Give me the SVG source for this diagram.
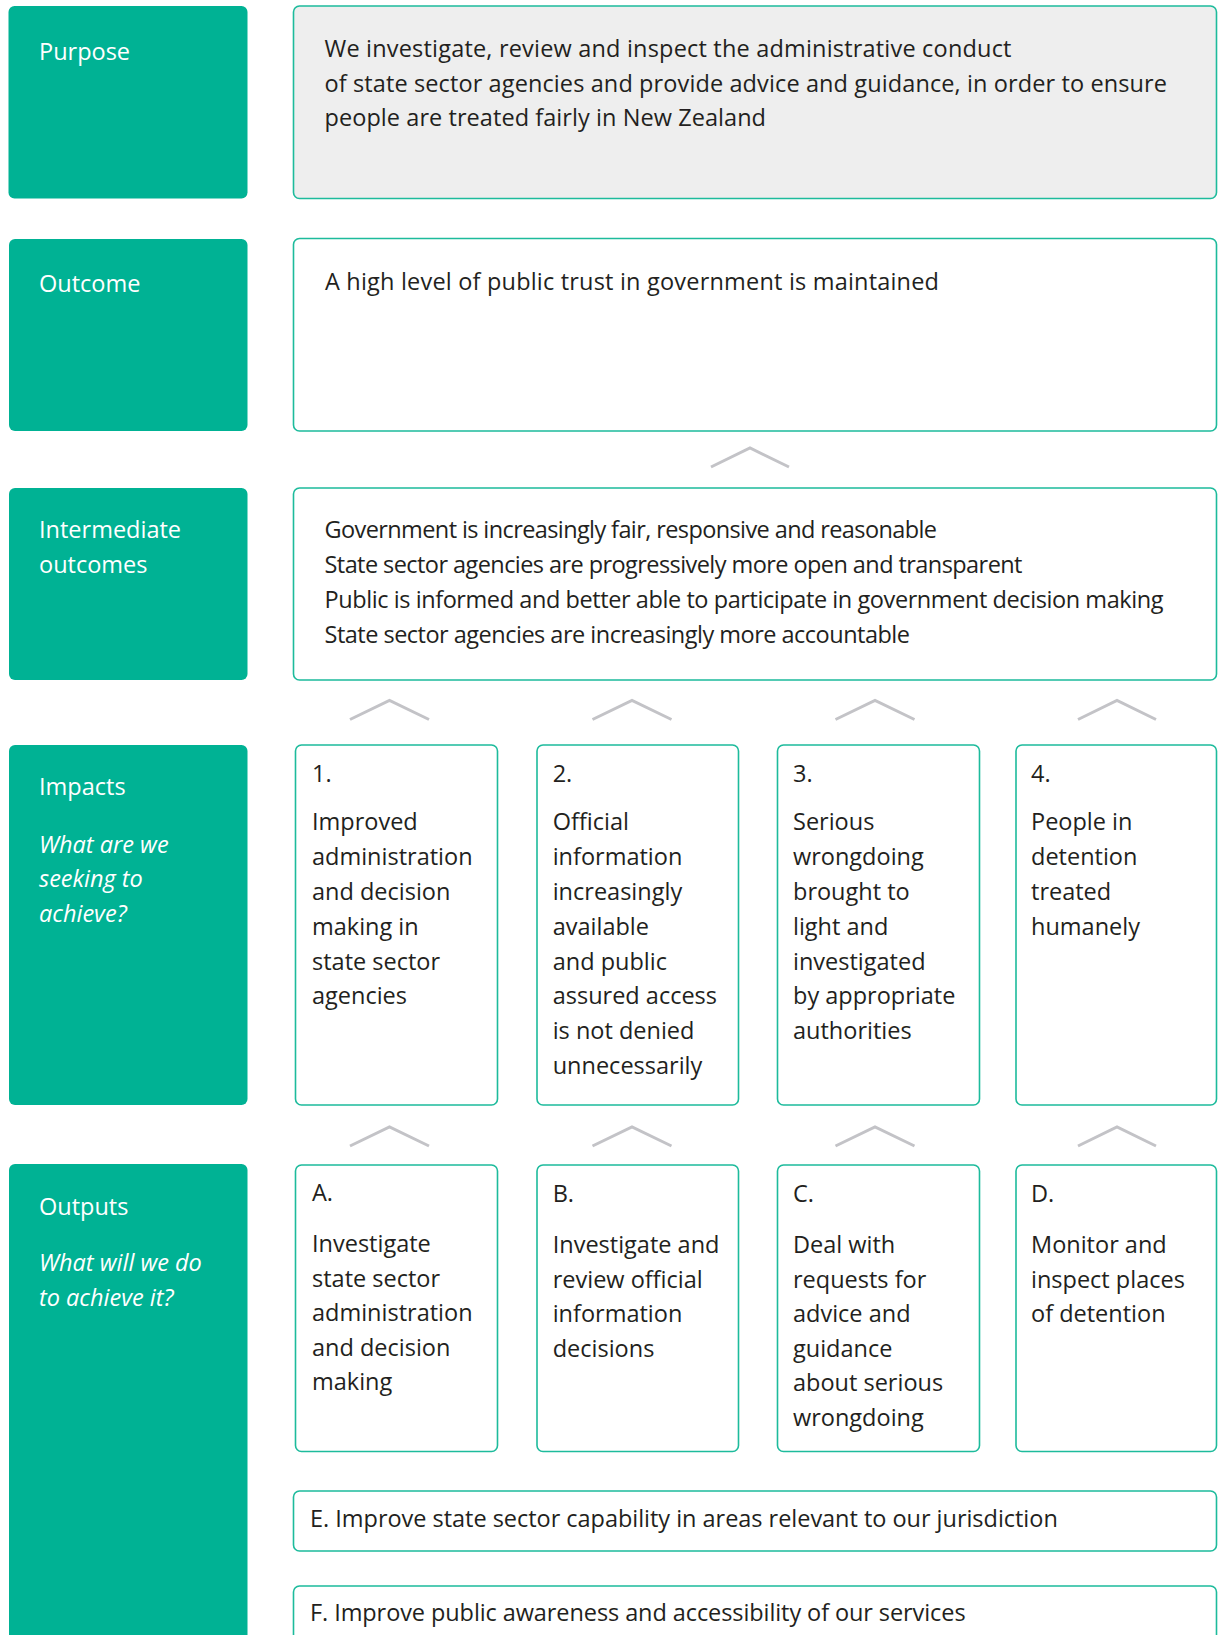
<svg xmlns="http://www.w3.org/2000/svg" width="1218" height="1635" viewBox="0 0 1218 1635">
<style>
.lab{fill:#00b294}
.box{fill:#ffffff;stroke:#1dbb9c;stroke-width:1.6}
.grey{fill:#eeeeee}
.lt{font-family:"Open Sans","Noto Sans","Liberation Sans",sans-serif;font-size:23.5px;fill:#ffffff}
.it{font-style:italic}
.t{font-family:"Open Sans","Noto Sans","Liberation Sans",sans-serif;font-size:23.5px;fill:#231f20}
.chev{fill:none;stroke:#c3c3c7;stroke-width:3}
</style>
<rect width="1218" height="1635" fill="#ffffff"/>
<g id="connectors">
<polyline class="chev" points="711,467 750,448 789,467"/>
<polyline class="chev" points="350,719.5 389.5,700.5 429,719.5"/>
<polyline class="chev" points="592.5,719.5 632,700.5 671.5,719.5"/>
<polyline class="chev" points="835.5,719.5 875,700.5 914.5,719.5"/>
<polyline class="chev" points="1078,719.5 1117,700.5 1156,719.5"/>
<polyline class="chev" points="350,1146 389.5,1127 429,1146"/>
<polyline class="chev" points="592.5,1146 632,1127 671.5,1146"/>
<polyline class="chev" points="835.5,1146 875,1127 914.5,1146"/>
<polyline class="chev" points="1078,1146 1117,1127 1156,1146"/>
</g>
<g id="label-purpose">
<rect class="lab" x="8.5" y="6" width="239" height="192.5" rx="6"/>
<text class="lt" x="39" y="59.5">Purpose</text>
</g>
<g id="label-outcome">
<rect class="lab" x="9" y="239" width="238.5" height="192" rx="6"/>
<text class="lt" x="39" y="292">Outcome</text>
</g>
<g id="label-intermediate">
<rect class="lab" x="9" y="488" width="238.5" height="192" rx="6"/>
<text class="lt" x="39" y="538">Intermediate</text>
<text class="lt" x="39" y="573">outcomes</text>
</g>
<g id="label-impacts">
<rect class="lab" x="9" y="745" width="238.5" height="360" rx="6"/>
<text class="lt" x="39" y="795">Impacts</text>
<text class="lt it" x="39" y="852.5">What are we</text>
<text class="lt it" x="39" y="887">seeking to</text>
<text class="lt it" x="39" y="921.5">achieve?</text>
</g>
<g id="label-outputs">
<rect class="lab" x="9" y="1164" width="238.5" height="520" rx="6"/>
<text class="lt" x="39" y="1214.5">Outputs</text>
<text class="lt it" x="39" y="1271">What will we do</text>
<text class="lt it" x="39" y="1305.5">to achieve it?</text>
</g>
<g id="purpose">
<rect class="box grey" x="293.5" y="6" width="923" height="192.5" rx="6"/>
<text class="t" x="324.5" y="57.3" textLength="687">We investigate, review and inspect the administrative conduct</text>
<text class="t" x="324.5" y="91.7" textLength="842.5">of state sector agencies and provide advice and guidance, in order to ensure</text>
<text class="t" x="324.5" y="126" textLength="441.5">people are treated fairly in New Zealand</text>
</g>
<g id="outcome">
<rect class="box" x="293.5" y="238.5" width="923" height="192.5" rx="6"/>
<text class="t" x="325" y="290" textLength="614">A high level of public trust in government is maintained</text>
</g>
<g id="intermediate">
<rect class="box" x="293.5" y="488" width="923" height="192" rx="6"/>
<text class="t" x="324.5" y="538.3" textLength="612.5">Government is increasingly fair, responsive and reasonable</text>
<text class="t" x="324.5" y="573.3" textLength="698">State sector agencies are progressively more open and transparent</text>
<text class="t" x="324.5" y="608.3" textLength="839">Public is informed and better able to participate in government decision making</text>
<text class="t" x="324.5" y="642.7" textLength="585.5">State sector agencies are increasingly more accountable</text>
</g>
<g id="impact-1">
<rect class="box" x="295.5" y="745" width="202" height="360" rx="6"/>
<text class="t" x="312" y="781.5">1.</text>
<text class="t" x="312" y="830">Improved</text>
<text class="t" x="312" y="865">administration</text>
<text class="t" x="312" y="900">and decision</text>
<text class="t" x="312" y="934.5">making in</text>
<text class="t" x="312" y="969.5">state sector</text>
<text class="t" x="312" y="1004">agencies</text>
</g>
<g id="impact-2">
<rect class="box" x="537" y="745" width="201.5" height="360" rx="6"/>
<text class="t" x="552.7" y="781.5">2.</text>
<text class="t" x="552.7" y="830">Official</text>
<text class="t" x="552.7" y="865">information</text>
<text class="t" x="552.7" y="900">increasingly</text>
<text class="t" x="552.7" y="934.5">available</text>
<text class="t" x="552.7" y="969.5">and public</text>
<text class="t" x="552.7" y="1004">assured access</text>
<text class="t" x="552.7" y="1039">is not denied</text>
<text class="t" x="552.7" y="1073.5">unnecessarily</text>
</g>
<g id="impact-3">
<rect class="box" x="777.5" y="745" width="202" height="360" rx="6"/>
<text class="t" x="793" y="781.5">3.</text>
<text class="t" x="793" y="830">Serious</text>
<text class="t" x="793" y="865">wrongdoing</text>
<text class="t" x="793" y="900">brought to</text>
<text class="t" x="793" y="934.5">light and</text>
<text class="t" x="793" y="969.5">investigated</text>
<text class="t" x="793" y="1004">by appropriate</text>
<text class="t" x="793" y="1039">authorities</text>
</g>
<g id="impact-4">
<rect class="box" x="1016" y="745" width="200.5" height="360" rx="6"/>
<text class="t" x="1031" y="781.5">4.</text>
<text class="t" x="1031" y="830">People in</text>
<text class="t" x="1031" y="865">detention</text>
<text class="t" x="1031" y="900">treated</text>
<text class="t" x="1031" y="934.5">humanely</text>
</g>
<g id="output-a">
<rect class="box" x="295.5" y="1165" width="202" height="286.5" rx="6"/>
<text class="t" x="312" y="1200.5">A.</text>
<text class="t" x="312" y="1252">Investigate</text>
<text class="t" x="312" y="1286.5">state sector</text>
<text class="t" x="312" y="1321">administration</text>
<text class="t" x="312" y="1355.5">and decision</text>
<text class="t" x="312" y="1390">making</text>
</g>
<g id="output-b">
<rect class="box" x="537" y="1165" width="201.5" height="286.5" rx="6"/>
<text class="t" x="552.7" y="1202">B.</text>
<text class="t" x="552.7" y="1253">Investigate and</text>
<text class="t" x="552.7" y="1287.5">review official</text>
<text class="t" x="552.7" y="1322">information</text>
<text class="t" x="552.7" y="1356.5">decisions</text>
</g>
<g id="output-c">
<rect class="box" x="777.5" y="1165" width="202" height="286.5" rx="6"/>
<text class="t" x="793" y="1202">C.</text>
<text class="t" x="793" y="1253">Deal with</text>
<text class="t" x="793" y="1287.5">requests for</text>
<text class="t" x="793" y="1322">advice and</text>
<text class="t" x="793" y="1356.5">guidance</text>
<text class="t" x="793" y="1391">about serious</text>
<text class="t" x="793" y="1425.5">wrongdoing</text>
</g>
<g id="output-d">
<rect class="box" x="1016" y="1165" width="200.5" height="286.5" rx="6"/>
<text class="t" x="1031" y="1202">D.</text>
<text class="t" x="1031" y="1253">Monitor and</text>
<text class="t" x="1031" y="1287.5">inspect places</text>
<text class="t" x="1031" y="1322">of detention</text>
</g>
<g id="output-e">
<rect class="box" x="293.5" y="1491" width="923" height="60" rx="6"/>
<text class="t" x="310" y="1526.7" textLength="747.8">E. Improve state sector capability in areas relevant to our jurisdiction</text>
</g>
<g id="output-f">
<rect class="box" x="293.5" y="1586" width="923" height="90" rx="6"/>
<text class="t" x="310" y="1620.6" textLength="655.6">F. Improve public awareness and accessibility of our services</text>
</g>
</svg>
